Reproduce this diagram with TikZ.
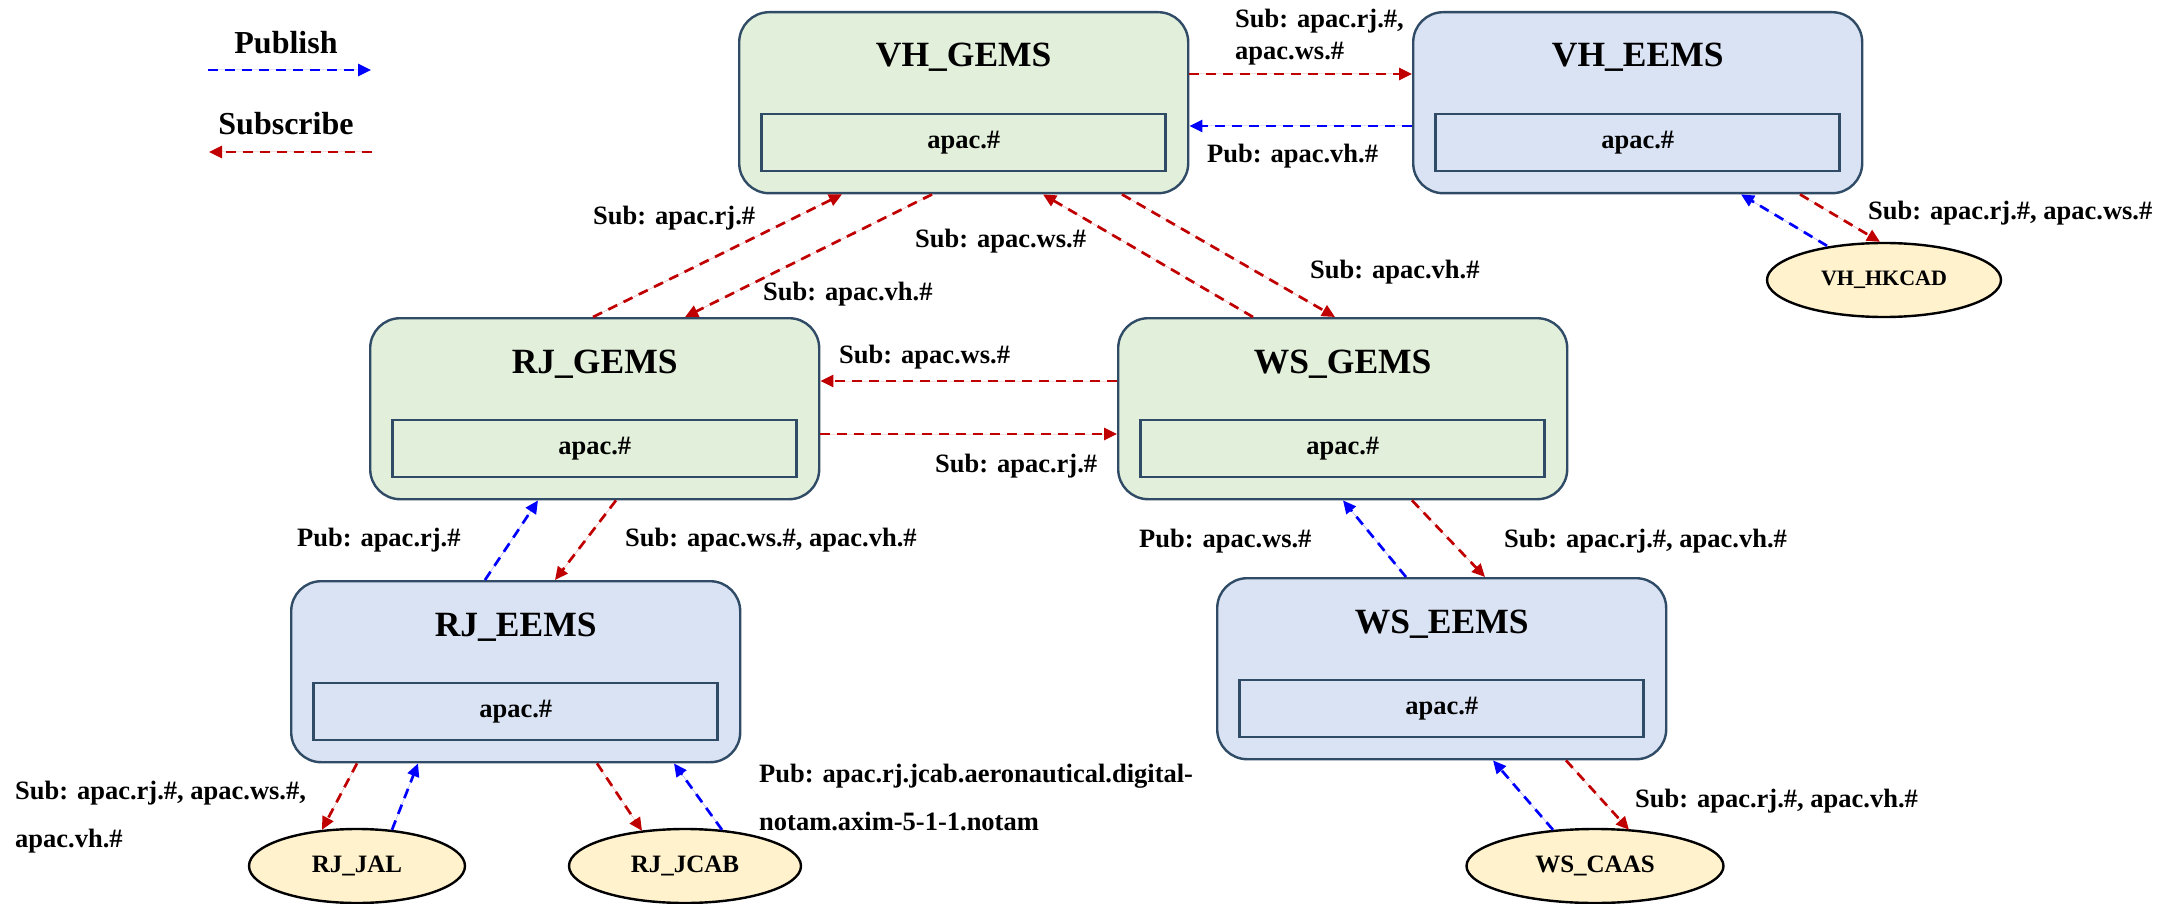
\documentclass[tikz,border=0pt]{standalone}
\usepackage{fontspec}
\setmainfont{Liberation Serif}
\usetikzlibrary{arrows.meta,shapes.geometric,calc}
\definecolor{gemsfill}{HTML}{E2EFDA}
\definecolor{eemsfill}{HTML}{DAE3F3}
\definecolor{clientfill}{HTML}{FFF2CC}
\definecolor{frame}{HTML}{2F4B66}
\definecolor{subred}{HTML}{C00000}
\definecolor{pubblue}{HTML}{0000FF}
\begin{document}
\begin{tikzpicture}[x=1pt,y=-1pt,
  srv/.style={draw=frame, line width=2.4pt, rounded corners=30pt, minimum width=449pt,
    minimum height=181pt, inner sep=0pt, anchor=north west},
  gems/.style={srv, fill=gemsfill},
  eems/.style={srv, fill=eemsfill},
  topic/.style={draw=frame, line width=2.7pt, minimum width=404pt, minimum height=57pt,
    inner sep=0pt, font={\bfseries\fontsize{26.5}{30}\selectfont}},
  title/.style={anchor=base, inner sep=0pt, font={\bfseries\fontsize{35.5}{40}\selectfont}},
  client/.style={ellipse, draw=black, line width=2.4pt, fill=clientfill, inner sep=0pt,
    minimum height=74pt, font={\bfseries\fontsize{25}{28}\selectfont}},
  lab/.style={anchor=base west, inner sep=0pt, align=left,
    font={\bfseries\fontsize{26.5}{32}\selectfont}},
  widelab/.style={lab, font={\bfseries\fontsize{26.5}{48}\selectfont}},
  legend/.style={anchor=base, inner sep=0pt, font={\bfseries\fontsize{32}{36}\selectfont}},
  link/.style={line width=2.7pt, dash pattern=on 10pt off 7pt,
    -{Triangle[length=13pt,width=12pt]}},
  sub/.style={link, draw=subred, fill=subred},
  pub/.style={link, draw=pubblue, fill=pubblue}
]
\useasboundingbox (0,0) rectangle (2164,904);

% legend
\node[legend] (pubT) at (286,54) {Publish};
\coordinate (pubL) at (208,70);
\coordinate (pubR) at (371,70);
\draw[pub] (pubL) -- (pubR);
\node[legend] (subT) at (286,135) {Subscribe};
\coordinate (subL) at (209,152);
\coordinate (subR) at (372,152);
\draw[sub] (subR) -- (subL);

% brokers
\node[gems] (vhgems) at (738,11) {};
\node[eems] (vheems) at (1412,11) {};
\node[gems] (rjgems) at (369,317) {};
\node[gems] (wsgems) at (1117,317) {};
\node[eems] (rjeems) at (290,580) {};
\node[eems] (wseems) at (1216,577) {};

\foreach \b/\t in {vhgems/VH\_GEMS, vheems/VH\_EEMS, rjgems/RJ\_GEMS,
                   wsgems/WS\_GEMS, rjeems/RJ\_EEMS, wseems/WS\_EEMS}{
  \node[title] (\b T) at ($(\b.north)+(0,56)$) {\t};
  \node[topic] (\b P) at ($(\b.north)+(0,131.5)$) {apac.\#};
}

% clients
\node[client, minimum width=216pt] (rjjal) at (357,866) {RJ\_JAL};
\node[client, minimum width=232pt] (rjjcab) at (685,866) {RJ\_JCAB};
\node[client, minimum width=257pt] (wscaas) at (1595,866) {WS\_CAAS};
\node[client, minimum width=234pt, font={\bfseries\fontsize{22}{26}\selectfont}] (vhhkcad) at (1884,280) {VH\_HKCAD};

% broker-to-broker links
\draw[sub] ($(vhgems.north east)+(0,63)$) -- ($(vheems.north west)+(0,63)$);
\draw[pub] ($(vheems.north west)+(0,115)$) -- ($(vhgems.north east)+(0,115)$);
\draw[sub] ($(rjgems.north west)+(224,0)$) -- ($(vhgems.south west)+(104,0)$);
\draw[sub] ($(vhgems.south west)+(194,0)$) -- ($(rjgems.north west)+(316,0)$);
\draw[sub] ($(wsgems.north west)+(136,0)$) -- ($(vhgems.south west)+(305,0)$);
\draw[sub] ($(vhgems.south west)+(384,0)$) -- ($(wsgems.north west)+(218,0)$);
\draw[sub] ($(wsgems.north west)+(0,64)$) -- ($(rjgems.north east)+(0,64)$);
\draw[sub] ($(rjgems.north east)+(0,117)$) -- ($(wsgems.north west)+(0,117)$);
\draw[pub] ($(rjeems.north west)+(195,0)$) -- ($(rjgems.south west)+(169,0)$);
\draw[sub] ($(rjgems.south west)+(247,0)$) -- ($(rjeems.north west)+(265,0)$);
\draw[pub] ($(wseems.north west)+(190,0)$) -- ($(wsgems.south west)+(226,0)$);
\draw[sub] ($(wsgems.south west)+(295,0)$) -- ($(wseems.north west)+(269,0)$);

% client links
\draw[sub] ($(rjeems.south west)+(67,0)$) -- ($(rjjal.north)+(-35,2)$);
\draw[pub] ($(rjjal.north)+(35,2)$) -- ($(rjeems.south west)+(128,0)$);
\draw[sub] ($(rjeems.south west)+(307,0)$) -- ($(rjjcab.north)+(-43,3)$);
\draw[pub] ($(rjjcab.north)+(37,2)$) -- ($(rjeems.south west)+(384,0)$);
\draw[sub] ($(wseems.south west)+(350,0)$) -- ($(wscaas.north)+(34,2)$);
\draw[pub] ($(wscaas.north)+(-42,2)$) -- ($(wseems.south west)+(277,0)$);
\draw[pub] ($(vhhkcad.north)+(-57,4)$) -- ($(vheems.south west)+(329,0)$);
\draw[sub] ($(vheems.south west)+(388,0)$) -- ($(vhhkcad.north)+(-4,0)$);

% topic labels (multi-line labels are placed by the baseline of their last line)
\node[lab] (l1) at (1235,60) {Sub: apac.rj.\#,\\apac.ws.\#};
\node[lab] (l2) at (1207,163) {Pub: apac.vh.\#};
\node[lab] (l3) at (593,225) {Sub: apac.rj.\#};
\node[lab] (l4) at (763,300) {Sub: apac.vh.\#};
\node[lab] (l5) at (915,248) {Sub: apac.ws.\#};
\node[lab] (l6) at (1310,279) {Sub: apac.vh.\#};
\node[lab] (l7) at (839,363) {Sub: apac.ws.\#};
\node[lab] (l8) at (935,472) {Sub: apac.rj.\#};
\node[lab] (l9) at (297,546) {Pub: apac.rj.\#};
\node[lab] (l10) at (625,546) {Sub: apac.ws.\#, apac.vh.\#};
\node[lab] (l11) at (1139,547) {Pub: apac.ws.\#};
\node[lab] (l12) at (1504,547) {Sub: apac.rj.\#, apac.vh.\#};
\node[lab] (l13) at (1868,220) {Sub: apac.rj.\#, apac.ws.\#};
\node[widelab] (l14) at (15,847) {Sub: apac.rj.\#, apac.ws.\#,\\apac.vh.\#};
\node[widelab] (l15) at (759,830) {Pub: apac.rj.jcab.aeronautical.digital-\\notam.axim-5-1-1.notam};
\node[lab] (l16) at (1635,807) {Sub: apac.rj.\#, apac.vh.\#};
\end{tikzpicture}
\end{document}
